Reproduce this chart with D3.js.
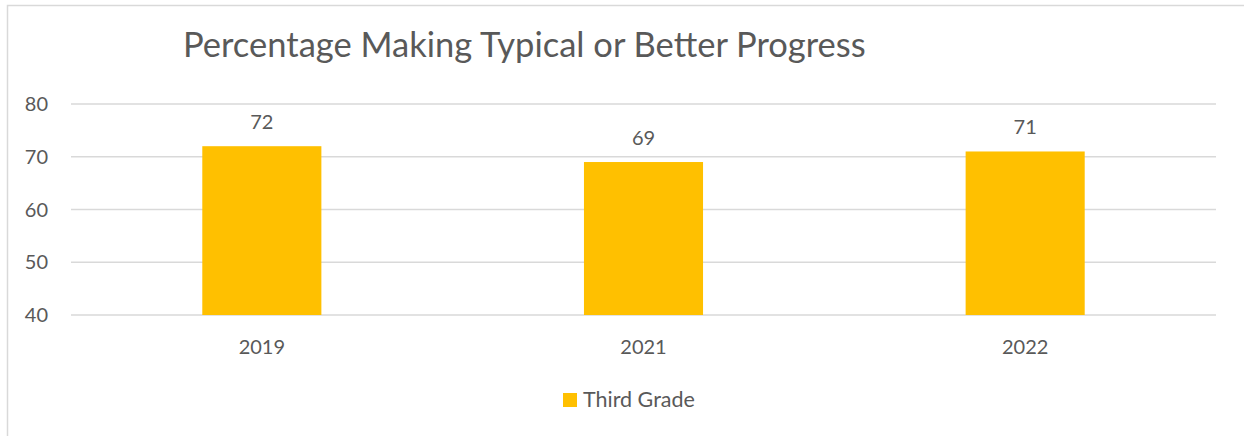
<!DOCTYPE html>
<html>
<head>
<meta charset="utf-8">
<script src="https://cdn.jsdelivr.net/npm/d3@7"></script>
<style>
  body { margin: 0; background: #fff; }
  text { font-family: Lato, "Open Sans", sans-serif; fill: #595959; }
</style>
</head>
<body>
<script>
// chart data
var years = ["2019", "2021", "2022"];
var thirdGrade = [72, 69, 71];
var yTicks = [40, 50, 60, 70, 80];
var seriesName = "Third Grade";
var chartTitle = "Percentage Making Typical or Better Progress";

function draw () {
    var width = 1244, height = 436;

    var svg = d3.select("body").append("svg")
        .attr("width", width)
        .attr("height", height);

    // chart frame
    svg.append("rect")
        .attr("x", 7.5).attr("y", 5.5)
        .attr("width", 1250).attr("height", 450)
        .attr("fill", "none")
        .attr("stroke", "#d9d9d9")
        .attr("stroke-width", 1.5);

    svg.append("text")
        .attr("x", 183).attr("y", 57)
        .attr("font-size", 34.5)
        .text(chartTitle);

    var x = d3.scaleBand()
        .domain(years)
        .range([71, 1216]);

    var y = d3.scaleLinear()
        .domain([40, 80])
        .range([315, 104]);

    // gridlines
    svg.append("g").selectAll("line")
        .data(yTicks)
        .enter().append("line")
        .attr("x1", 71).attr("x2", 1216)
        .attr("y1", function(d){ return y(d); })
        .attr("y2", function(d){ return y(d); })
        .attr("stroke", "#d9d9d9")
        .attr("stroke-width", 1.5);

    // y tick labels
    svg.append("g").selectAll("text")
        .data(yTicks)
        .enter().append("text")
        .attr("x", 48).attr("y", function(d){ return y(d) + 7; })
        .attr("text-anchor", "end")
        .attr("font-size", 20)
        .text(function(d){ return d; });

    var barW = x.bandwidth() * 0.312;

    svg.append("g").selectAll("rect")
        .data(thirdGrade)
        .enter().append("rect")
        .attr("x", function(d, i){ return x(years[i]) + x.bandwidth()/2 - barW/2; })
        .attr("y", function(d){ return y(d); })
        .attr("width", barW)
        .attr("height", function(d){ return y(40) - y(d); })
        .attr("fill", "#ffc000");

    // value labels
    svg.append("g").selectAll("text")
        .data(thirdGrade)
        .enter().append("text")
        .attr("x", function(d, i){ return x(years[i]) + x.bandwidth()/2; })
        .attr("y", function(d){ return y(d) - 17; })
        .attr("text-anchor", "middle")
        .attr("font-size", 20)
        .text(function(d){ return d; });

    // x labels
    svg.append("g").selectAll("text")
        .data(years)
        .enter().append("text")
        .attr("x", function(d){ return x(d) + x.bandwidth()/2; })
        .attr("y", 354)
        .attr("text-anchor", "middle")
        .attr("font-size", 20)
        .text(function(d){ return d; });

    // legend
    svg.append("rect")
        .attr("x", 563).attr("y", 393)
        .attr("width", 14).attr("height", 14)
        .attr("fill", "#ffc000");
    svg.append("text")
        .attr("x", 583).attr("y", 407)
        .attr("font-size", 21.5)
        .text(seriesName);
}

window.onload = draw;
</script>
</body>
</html>
